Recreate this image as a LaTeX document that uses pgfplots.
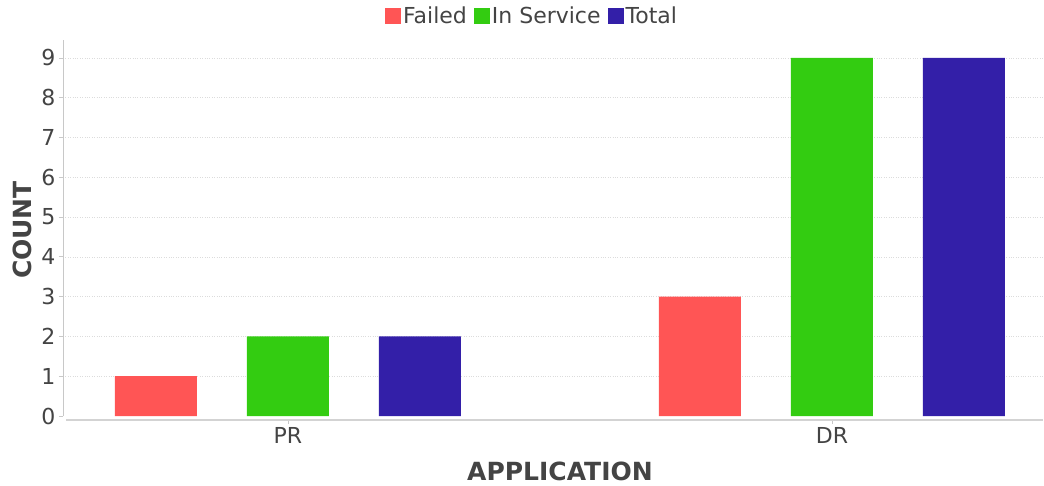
\documentclass[border=0pt]{standalone}
\usepackage{fontspec}
\setmainfont{DejaVu Sans}
\usepackage{pgfplots}
\pgfplotsset{compat=1.18}
\definecolor{cfail}{RGB}{255,85,85}
\definecolor{cserv}{RGB}{51,204,17}
\definecolor{ctot}{RGB}{51,31,168}
\definecolor{txt}{RGB}{68,68,68}
\definecolor{axl}{RGB}{200,200,200}
\definecolor{grd}{RGB}{220,220,220}
\pgfplotsset{sqleg/.style={legend image code/.code={\fill[##1] (0pt,-8pt) rectangle (16pt,8pt);}}}
\begin{document}
\begin{tikzpicture}[x=1pt,y=1pt]
\path[use as bounding box] (0,0) rectangle (1044,485);
\begin{axis}[
  at={(63pt,65pt)}, anchor=south west,
  scale only axis, width=980pt, height=380pt,
  xmin=-0.4136, xmax=1.388, ymin=-0.1, ymax=9.45,
  ybar, bar width=82pt,
  clip=false,
  xtick={0,1}, xticklabels={PR,DR},
  ytick={1,...,9},
  extra y ticks={0}, extra y tick style={grid=none},
  ymajorgrids, grid style={grd, dotted, line width=0.7pt},
  x axis line style={draw=none}, y axis line style={draw=none},
  xtick pos=bottom, ytick pos=left, tick align=outside,
  major tick length=4pt, tick style={axl, line width=0.8pt},
  ticklabel style={font=\fontsize{22}{26}\selectfont, text=txt},
  /pgf/number format/assume math mode=true,
  xlabel={APPLICATION}, ylabel={COUNT},
  label style={font=\bfseries\fontsize{25}{30}\selectfont, text=txt},
  xlabel style={at={(axis description cs:0.5,0)}, anchor=base, yshift=-60pt, xshift=7pt},
  ylabel style={at={(axis description cs:0,0.5)}, anchor=center, yshift=41pt},
  legend style={at={(axis description cs:0.4786,1.063)}, anchor=center, draw=none, fill=none,
    legend columns=3, font=\fontsize{22}{26}\selectfont, text=txt, inner sep=0pt,
    /tikz/every even column/.append style={column sep=5pt}},
  legend cell align=left,
]
\addplot[fill=cfail, draw=none, bar shift=-132pt, sqleg] coordinates {(0,1) (1,3)};
\addplot[fill=cserv, draw=none, bar shift=0pt, sqleg] coordinates {(0,2) (1,9)};
\addplot[fill=ctot, draw=none, bar shift=132pt, sqleg] coordinates {(0,2) (1,9)};
\legend{Failed, In Service, Total}
\draw[axl, line width=0.8pt] (axis cs:-0.4136,0) -- (axis cs:-0.4136,9.45);
\draw[axl!80, line width=1.3pt] (axis cs:-0.408,-0.1) -- (axis cs:1.388,-0.1);
\end{axis}
\end{tikzpicture}
\end{document}
